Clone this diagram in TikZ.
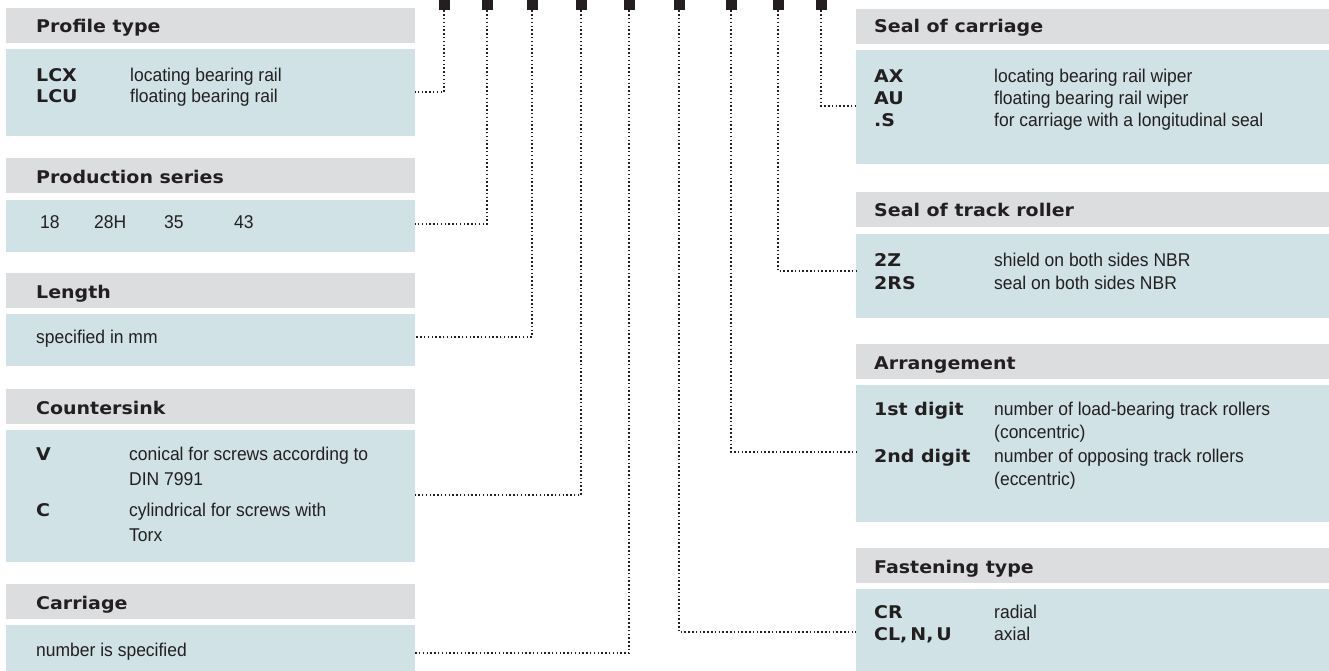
\documentclass[tikz,border=0pt]{standalone}
\usepackage{fontspec}
\setmainfont{Liberation Sans}[FakeStretch=0.945]
\newfontfamily\hdfont{DejaVu Sans}[FakeStretch=1.085]
\definecolor{ink}{HTML}{231F20}
\definecolor{hdgray}{HTML}{DCDDDF}
\definecolor{bdblue}{HTML}{D0E2E5}
\begin{document}
\begin{tikzpicture}[x=1pt,y=-1pt,
  hdr/.style={fill=hdgray,draw=none,inner sep=0,anchor=north west,minimum height=35},
  bdy/.style={fill=bdblue,draw=none,inner sep=0,anchor=north west},
  htxt/.style={anchor=base west,inner sep=0,text=ink,font=\hdfont\bfseries\fontsize{17.5}{20}\selectfont},
  desc/.style={anchor=base west,inner sep=0,text=ink,font=\fontsize{18.5}{21}\selectfont},
  sq/.style={fill=ink,draw=none,inner sep=0,minimum width=11,minimum height=10,anchor=north},
  conn/.style={draw=ink,line width=1.6pt,dash pattern=on 1.5pt off 2.3pt}]
\useasboundingbox (0,0) rectangle (1329,671);

% ---------- left column ----------
\node[hdr,minimum width=409] (hProf) at (6,8) {};
\node[bdy,minimum width=409,minimum height=87] (bProf) at (6,49) {};
\node[htxt] (tProf) at (36,33) {Profile type};
\node[htxt] (kLCX) at (36,82) {LCX};
\node[desc] (dLCX) at (130,82) {locating bearing rail};
\node[htxt] (kLCU) at (36,103) {LCU};
\node[desc] (dLCU) at (130,103) {floating bearing rail};

\node[hdr,minimum width=409] (hProd) at (6,158) {};
\node[bdy,minimum width=409,minimum height=52] (bProd) at (6,200) {};
\node[htxt] (tProd) at (36,183) {Production series};
\node[desc] (v18) at (40,228) {18};
\node[desc] (v28) at (94,228) {28H};
\node[desc] (v35) at (164,228) {35};
\node[desc] (v43) at (234,228) {43};

\node[hdr,minimum width=409] (hLen) at (6,273) {};
\node[bdy,minimum width=409,minimum height=52] (bLen) at (6,314) {};
\node[htxt] (tLen) at (36,298) {Length};
\node[desc] (dLen) at (36,343) {specified in mm};

\node[hdr,minimum width=409] (hCsk) at (6,389) {};
\node[bdy,minimum width=409,minimum height=132] (bCsk) at (6,430) {};
\node[htxt] (tCsk) at (36,414) {Countersink};
\node[htxt] (kV) at (36,460) {V};
\node[desc] (dV1) at (129,460) {conical for screws according to};
\node[desc] (dV2) at (129,485) {DIN 7991};
\node[htxt] (kC) at (36,516) {C};
\node[desc] (dC1) at (129,516) {cylindrical for screws with};
\node[desc] (dC2) at (129,541) {Torx};

\node[hdr,minimum width=409] (hCar) at (6,584) {};
\node[bdy,minimum width=409,minimum height=47] (bCar) at (6,625) {};
\node[htxt] (tCar) at (36,609) {Carriage};
\node[desc] (dCar) at (36,656) {number is specified};

% ---------- right column ----------
\node[hdr,minimum width=473] (hSeal) at (856,9) {};
\node[bdy,minimum width=473,minimum height=114] (bSeal) at (856,50) {};
\node[htxt] (tSeal) at (874,33) {Seal of carriage};
\node[htxt] (kAX) at (874,83) {AX};
\node[desc] (dAX) at (994,83) {locating bearing rail wiper};
\node[htxt] (kAU) at (874,105) {AU};
\node[desc] (dAU) at (994,105) {floating bearing rail wiper};
\node[htxt] (kS) at (874,127) {.S};
\node[desc] (dS) at (994,127) {for carriage with a longitudinal seal};

\node[hdr,minimum width=473] (hTr) at (856,192) {};
\node[bdy,minimum width=473,minimum height=84] (bTr) at (856,234) {};
\node[htxt] (tTr) at (874,216) {Seal of track roller};
\node[htxt] (k2Z) at (874,266) {2Z};
\node[desc] (d2Z) at (994,266) {shield on both sides NBR};
\node[htxt] (k2RS) at (874,289) {2RS};
\node[desc] (d2RS) at (994,289) {seal on both sides NBR};

\node[hdr,minimum width=473] (hArr) at (856,344) {};
\node[bdy,minimum width=473,minimum height=137] (bArr) at (856,385) {};
\node[htxt] (tArr) at (874,369) {Arrangement};
\node[htxt] (k1st) at (874,415) {1st digit};
\node[desc] (d1a) at (994,415) {number of load-bearing track rollers};
\node[desc] (d1b) at (994,438) {(concentric)};
\node[htxt] (k2nd) at (874,462) {2nd digit};
\node[desc] (d2a) at (994,462) {number of opposing track rollers};
\node[desc] (d2b) at (994,485) {(eccentric)};

\node[hdr,minimum width=473] (hFas) at (856,548) {};
\node[bdy,minimum width=473,minimum height=83] (bFas) at (856,589) {};
\node[htxt] (tFas) at (874,573) {Fastening type};
\node[htxt] (kCR) at (874,618) {CR};
\node[desc] (dCR) at (994,618) {radial};
\node[htxt] (kCL) at (874,640) {CL,\,N,\,U};
\node[desc] (dCL) at (994,640) {axial};

% ---------- code squares ----------
\node[sq] (q1) at (444,0) {};
\node[sq] (q2) at (487,0) {};
\node[sq] (q3) at (532,0) {};
\node[sq] (q4) at (581,0) {};
\node[sq] (q5) at (629,0) {};
\node[sq] (q6) at (679,0) {};
\node[sq] (q7) at (731,0) {};
\node[sq] (q8) at (778,0) {};
\node[sq] (q9) at (821,0) {};

% ---------- connector ends ----------
\coordinate (e1) at (415,92);
\coordinate (e2) at (415,224);
\coordinate (e3) at (415,337);
\coordinate (e4) at (415,495);
\coordinate (e5) at (415,653);
\coordinate (e6) at (856,632);
\coordinate (e7) at (856,452);
\coordinate (e8) at (856,271);
\coordinate (e9) at (856,106);

\draw[conn] (q1.south) |- (e1);
\draw[conn] (q2.south) |- (e2);
\draw[conn] (q3.south) |- (e3);
\draw[conn] (q4.south) |- (e4);
\draw[conn] (q5.south) |- (e5);
\draw[conn] (q6.south) |- (e6);
\draw[conn] (q7.south) |- (e7);
\draw[conn] (q8.south) |- (e8);
\draw[conn] (q9.south) |- (e9);
\end{tikzpicture}
\end{document}
